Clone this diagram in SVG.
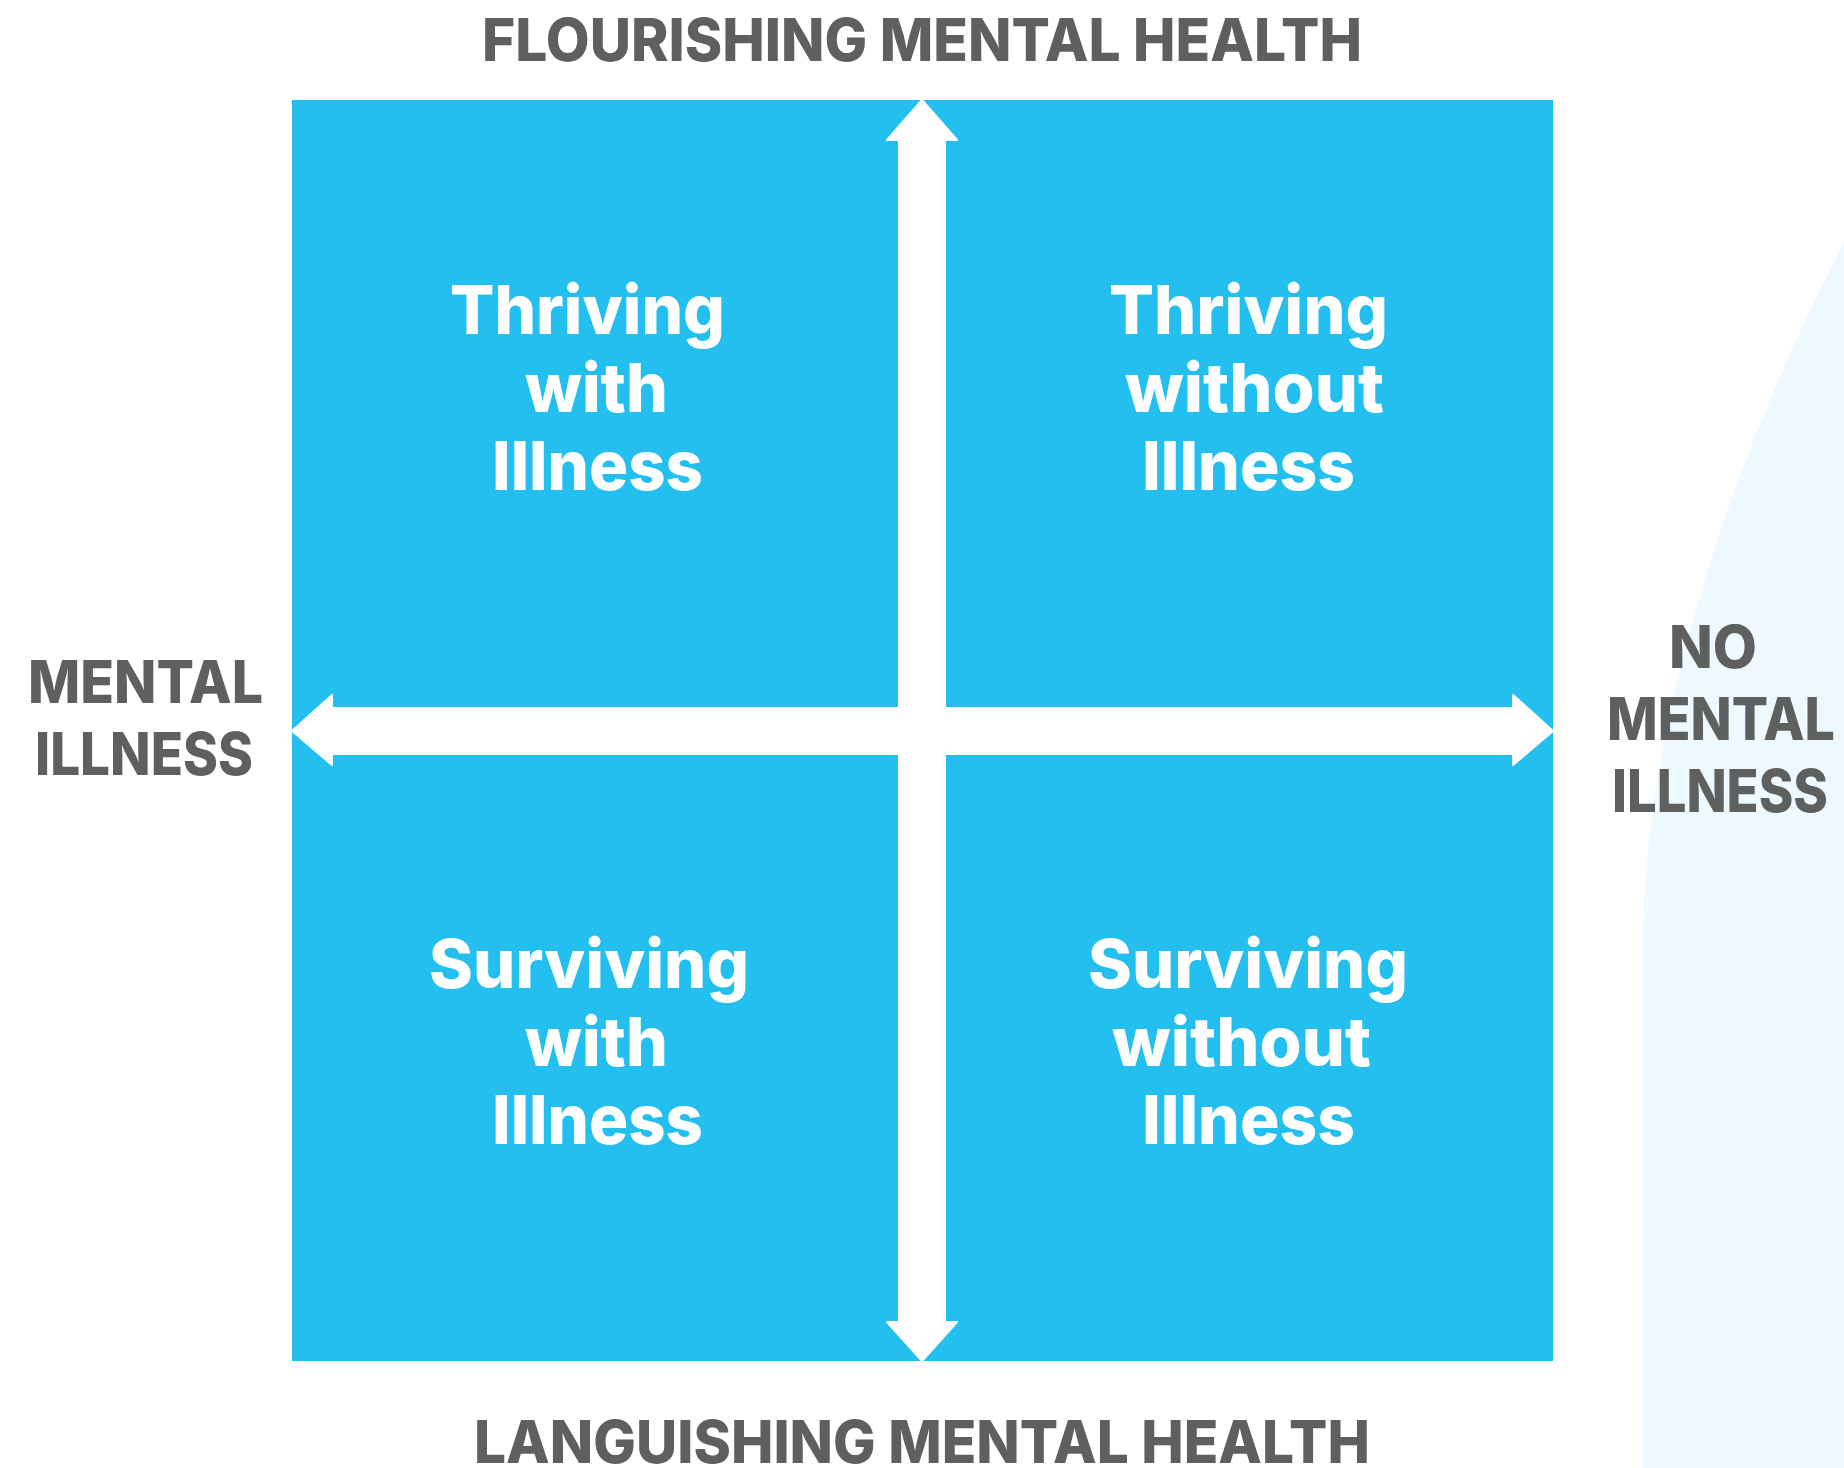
<svg xmlns="http://www.w3.org/2000/svg" width="1844" height="1468" viewBox="0 0 1844 1468">
<style>
.axis{font-family:Inter,"Liberation Sans",sans-serif;font-weight:800;font-size:59px;fill:#5e605f}
.q{font-family:Inter,"Liberation Sans",sans-serif;font-weight:800;font-size:68px;fill:#ffffff}
</style>
<rect x="0" y="0" width="1844" height="1468" fill="#ffffff"/>
<path d="M1844,243 C1786,353 1741,463 1707,573 C1668,699 1643,824 1643,950 L1643,1468 L1844,1468 Z" fill="#edf9fe"/>
<g id="quadrants">
<rect x="292" y="100" width="1261" height="1261" fill="#22bfef"/>
</g>
<g id="connectors">
<path d="M922,100 L957,140 L945,140 L945,708 L1513,708 L1513,695 L1553,731 L1513,765 L1513,754 L945,754 L945,1322 L957,1322 L922,1361 L887,1322 L899,1322 L899,754 L332,754 L332,765 L292,731 L332,695 L332,708 L899,708 L899,140 L887,140 Z" fill="#ffffff" stroke="#ffffff" stroke-width="2" stroke-linejoin="round"/>
</g>
<g id="axis-top"><text class="axis" x="482" y="61" textLength="880" lengthAdjust="spacingAndGlyphs">FLOURISHING MENTAL HEALTH</text></g>
<g id="axis-bottom"><text class="axis" x="474" y="1463" textLength="896" lengthAdjust="spacingAndGlyphs">LANGUISHING MENTAL HEALTH</text></g>
<g id="axis-left">
<text class="axis" x="28" y="703" textLength="235" lengthAdjust="spacingAndGlyphs">MENTAL</text>
<text class="axis" x="35" y="775" textLength="218" lengthAdjust="spacingAndGlyphs">ILLNESS</text>
</g>
<g id="axis-right">
<text class="axis" x="1669" y="668" textLength="88" lengthAdjust="spacingAndGlyphs">NO</text>
<text class="axis" x="1607" y="740" textLength="228" lengthAdjust="spacingAndGlyphs">MENTAL</text>
<text class="axis" x="1612" y="812" textLength="216" lengthAdjust="spacingAndGlyphs">ILLNESS</text>
</g>
<g id="q-thriving-with">
<text class="q" x="450" y="334" textLength="275" lengthAdjust="spacingAndGlyphs">Thriving</text>
<text class="q" x="525" y="412" textLength="143" lengthAdjust="spacingAndGlyphs">with</text>
<text class="q" x="492" y="490" textLength="211" lengthAdjust="spacingAndGlyphs">Illness</text>
</g>
<g id="q-thriving-without">
<text class="q" x="1109" y="334" textLength="279" lengthAdjust="spacingAndGlyphs">Thriving</text>
<text class="q" x="1125" y="412" textLength="259" lengthAdjust="spacingAndGlyphs">without</text>
<text class="q" x="1142" y="490" textLength="213" lengthAdjust="spacingAndGlyphs">Illness</text>
</g>
<g id="q-surviving-with">
<text class="q" x="429" y="988" textLength="320" lengthAdjust="spacingAndGlyphs">Surviving</text>
<text class="q" x="525" y="1066" textLength="143" lengthAdjust="spacingAndGlyphs">with</text>
<text class="q" x="492" y="1144" textLength="211" lengthAdjust="spacingAndGlyphs">Illness</text>
</g>
<g id="q-surviving-without">
<text class="q" x="1088" y="988" textLength="320" lengthAdjust="spacingAndGlyphs">Surviving</text>
<text class="q" x="1112" y="1066" textLength="259" lengthAdjust="spacingAndGlyphs">without</text>
<text class="q" x="1142" y="1144" textLength="213" lengthAdjust="spacingAndGlyphs">Illness</text>
</g>
</svg>
